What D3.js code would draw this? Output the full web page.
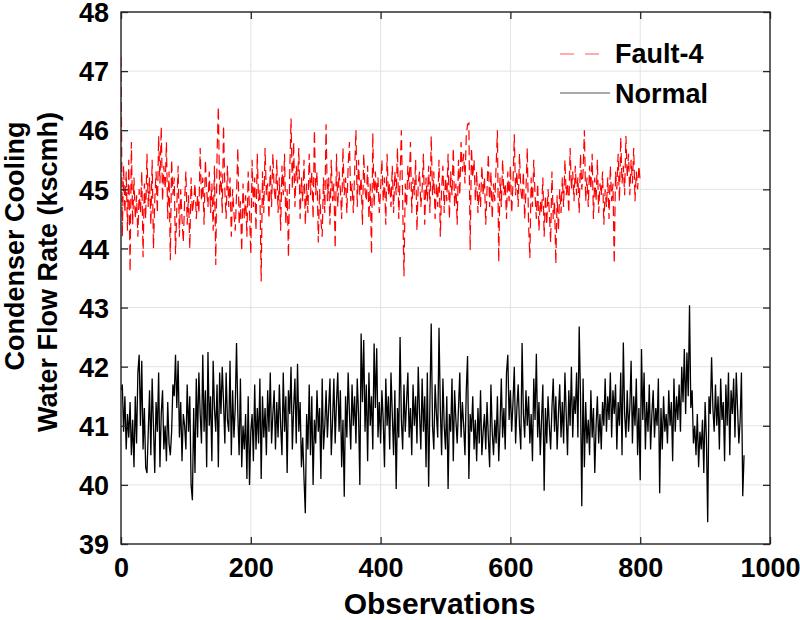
<!DOCTYPE html>
<html>
<head>
<meta charset="utf-8">
<script src="https://cdn.jsdelivr.net/npm/d3@7/dist/d3.min.js"></script>
<style>
  html, body { margin: 0; padding: 0; background: #fff; }
  svg { display: block; }
  text { font-family: "Liberation Sans", Arial, Helvetica, sans-serif; font-weight: bold; fill: #000; }
</style>
</head>
<body>
<svg id="chart" width="800" height="620"></svg>
<script>
// ---- data (one value every STEP observations) ----
const STEP = 2;
const xTicks = [0, 200, 400, 600, 800, 1000];
const yTicks = [39, 40, 41, 42, 43, 44, 45, 46, 47, 48];
const seriesNames = ["Fault-4", "Normal"];

const fault4 = [
47.24,44.2,45.4,44.6,45.3,44.3,45.5,43.6,45.8,44.4,
45.2,44.5,44.9,44.2,45.0,44.6,45.3,43.85,45.1,44.5,
45.6,44.7,45.2,44.4,45.5,44.0,44.8,45.3,44.6,45.9,
45.1,46.06,44.8,45.4,45.0,45.8,44.5,45.3,43.8,45.5,
44.9,45.2,43.9,44.7,45.4,44.2,45.0,44.5,44.1,44.8,
45.3,44.4,44.9,44.0,45.2,44.6,44.8,45.1,44.5,44.9,
44.6,45.7,44.8,45.2,44.4,45.5,45.0,44.7,45.3,44.6,
45.1,44.3,45.4,43.72,45.6,46.4,44.9,45.3,44.6,46.08,
45.0,44.5,45.4,44.7,45.2,44.2,45.0,44.6,44.3,44.9,
45.7,44.4,44.8,43.95,45.1,44.5,44.9,44.2,45.3,44.6,
43.9,45.5,44.7,45.2,44.3,45.6,44.8,45.0,43.44,45.3,
44.6,45.7,44.9,45.1,44.5,45.4,44.7,45.6,45.0,44.8,
45.5,44.6,45.2,44.3,45.4,44.9,45.6,44.4,45.0,43.85,
45.3,46.2,45.0,45.8,44.7,45.4,45.1,45.7,44.5,45.2,
44.8,45.5,44.4,45.1,44.6,45.6,44.9,45.3,44.5,46.0,
44.9,45.3,44.1,45.0,44.5,44.2,45.2,44.6,46.1,44.8,
45.2,44.4,45.5,44.8,45.1,44.0,45.6,44.7,45.3,45.0,
44.5,45.7,44.9,45.2,44.6,45.4,45.8,44.8,45.1,44.6,
45.3,46.0,44.7,45.5,44.9,45.2,44.4,45.6,45.0,44.8,
45.4,44.5,45.1,43.9,45.95,44.7,45.3,44.9,45.2,44.6,
45.0,45.5,44.8,45.2,44.4,45.6,44.9,45.1,44.7,45.4,
44.6,45.3,44.9,45.7,44.5,45.2,46.0,44.8,43.53,45.1,
44.7,45.4,45.0,45.8,44.6,45.2,44.9,45.5,44.3,45.1,
45.3,44.7,45.0,45.6,44.4,45.2,44.8,45.4,44.6,45.9,
44.9,45.3,44.5,45.1,44.7,45.5,44.2,45.0,45.4,44.6,
45.2,44.8,45.6,44.5,45.3,44.9,45.7,44.7,45.1,44.4,
45.5,44.9,45.8,45.3,45.6,45.1,45.9,46.1,46.12,43.97,
45.7,45.2,45.5,44.8,45.3,44.6,45.1,44.7,45.4,44.9,
45.2,44.4,45.0,45.6,44.7,45.3,44.5,45.1,44.8,45.4,
46.0,43.77,45.2,44.7,45.5,44.9,45.1,44.5,45.3,44.8,
45.4,44.6,45.1,45.93,44.9,45.3,44.7,45.6,45.0,44.8,
45.3,44.5,45.0,45.7,44.4,43.84,45.2,44.7,45.5,44.9,
44.5,45.1,44.3,44.8,44.6,45.2,44.2,44.9,44.4,45.0,
44.6,44.1,45.3,44.5,44.8,43.74,44.9,44.3,45.0,44.6,
45.2,44.7,45.5,44.9,45.1,44.6,45.7,45.0,45.3,44.8,
45.4,44.9,45.2,44.6,45.6,45.0,45.3,46.0,44.8,45.2,
44.7,45.4,45.0,45.6,44.5,45.2,44.8,45.5,44.6,45.1,
44.9,45.3,44.4,45.0,44.7,45.2,44.5,45.4,44.8,45.1,
43.74,45.3,45.0,45.6,44.8,45.88,45.1,45.4,44.9,45.9,
45.2,45.6,44.9,45.5,45.1,45.7,44.8,45.3,45.0,45.4,
45.13
];

const normal = [
41.6,41.7,40.9,41.5,40.6,41.2,40.8,41.4,40.5,41.1,
40.3,41.5,40.7,41.9,42.2,41.0,42.1,40.6,41.3,40.3,
40.2,40.9,41.6,40.5,41.8,41.0,40.2,41.4,40.9,41.9,
40.3,41.2,41.6,40.6,41.0,40.4,41.4,40.7,40.5,40.9,
41.7,41.5,42.2,41.3,42.1,40.8,41.4,40.4,41.2,41.0,
40.6,41.7,40.9,41.5,40.0,39.74,41.3,40.2,41.8,40.8,
41.9,41.2,40.7,42.2,40.9,41.6,40.3,42.25,41.0,41.5,
40.4,42.1,41.3,40.9,41.7,40.3,41.9,41.2,42.0,41.4,
40.7,41.9,41.1,40.9,42.1,40.5,41.6,40.8,41.3,42.4,
41.2,40.5,41.8,40.3,41.0,40.6,41.2,40.1,41.5,40.0,
40.9,41.2,40.4,41.7,40.6,41.3,40.7,41.8,40.1,41.5,
40.8,41.3,40.5,41.6,40.9,41.9,40.7,41.2,41.6,40.6,
41.4,40.8,41.7,41.0,40.5,41.9,40.9,41.5,40.2,41.6,
41.2,42.0,40.6,41.3,41.8,40.7,42.05,40.9,41.4,40.3,
40.8,40.1,39.52,41.2,40.6,41.7,40.5,41.5,40.0,41.1,
40.7,41.6,40.9,41.3,40.1,41.8,40.6,41.0,41.6,40.8,
41.3,41.8,40.5,41.1,41.8,40.7,41.4,41.9,40.9,41.6,
40.3,41.1,39.8,41.5,40.8,41.9,41.2,40.6,41.7,41.0,
41.5,40.7,41.8,41.2,40.0,42.56,41.4,42.45,40.9,41.7,
40.4,41.9,41.0,41.5,40.6,42.39,41.3,42.31,40.8,41.4,
40.7,41.6,41.1,40.3,41.8,41.0,41.5,40.6,41.9,41.2,
40.5,41.6,39.93,41.3,40.8,42.5,41.1,40.6,41.7,40.9,
41.4,41.9,40.8,41.3,40.5,41.7,41.0,41.5,40.7,42.0,
41.2,40.6,41.8,40.9,41.5,40.3,41.9,39.97,41.4,42.73,
41.0,40.6,41.7,41.2,40.8,42.66,41.3,40.5,41.8,41.0,
40.6,41.5,39.93,41.2,40.9,41.8,40.4,41.6,41.1,40.7,
41.3,41.9,40.8,41.4,41.0,40.5,41.6,42.18,40.1,41.2,
40.9,41.5,40.6,41.1,40.4,41.3,40.7,41.6,40.5,40.9,
41.2,40.6,41.4,40.8,40.3,41.7,40.9,40.5,41.1,40.7,
41.5,40.4,41.0,41.8,40.8,41.3,40.6,41.9,42.2,41.1,
41.6,40.9,41.4,42.0,40.7,41.3,41.7,41.0,40.6,42.4,
41.2,40.8,41.6,41.0,41.5,40.7,41.2,40.4,41.8,41.1,
42.22,40.8,41.4,40.5,41.1,41.7,39.9,41.3,40.7,41.5,
41.0,40.6,41.3,41.8,40.9,41.5,40.6,41.2,41.7,40.8,
41.4,40.7,41.9,41.2,40.5,41.6,41.0,42.0,40.8,41.5,
41.2,41.9,40.8,42.68,41.5,39.64,41.8,40.3,41.4,40.7,
41.1,40.5,41.6,40.8,41.3,40.2,41.0,41.5,40.7,41.2,
40.6,41.4,41.0,41.8,40.9,41.5,41.1,41.9,40.8,41.6,
41.2,41.7,40.6,41.4,41.0,41.9,40.5,42.41,41.2,40.8,
41.6,40.9,41.3,42.1,40.7,41.5,41.0,41.8,40.5,41.3,
40.08,42.3,41.1,41.9,40.6,41.4,40.9,41.7,40.6,41.2,
41.6,40.8,41.3,41.0,41.8,39.86,41.3,40.6,41.5,40.9,
41.2,40.7,41.6,41.0,41.4,40.4,41.8,40.9,41.5,41.1,
41.7,40.9,42.0,41.4,42.3,41.2,42.24,41.5,43.04,41.3,
41.6,40.7,41.0,40.5,41.2,40.3,40.9,40.6,41.1,40.2,
41.4,40.8,39.37,41.5,41.2,42.16,41.3,40.9,41.7,41.0,
41.5,40.6,41.8,41.1,41.4,40.4,41.7,41.0,41.9,40.5,
41.6,41.2,41.8,40.8,41.9,41.3,40.7,41.1,41.9,39.81,
40.5
];

// ---- layout ----
const svg = d3.select("#chart");
const margin = { left: 121, right: 30, top: 12, bottom: 76 };
const W = 800, H = 620;
const x = d3.scaleLinear().domain([0, 1000]).range([margin.left, W - margin.right]);
const y = d3.scaleLinear().domain([39, 48]).range([H - margin.bottom, margin.top]);
const x0 = x.range()[0], x1 = x.range()[1], y0 = y.range()[0], y1 = y.range()[1];

// grid
const grid = svg.append("g").attr("stroke", "#e3e3e3").attr("stroke-width", 1);
xTicks.forEach(t => grid.append("line").attr("x1", x(t)).attr("x2", x(t)).attr("y1", y0).attr("y2", y1));
yTicks.forEach(t => grid.append("line").attr("x1", x0).attr("x2", x1).attr("y1", y(t)).attr("y2", y(t)));

// clip
svg.append("clipPath").attr("id", "clip").append("rect")
  .attr("x", x0).attr("y", y1).attr("width", x1 - x0).attr("height", y0 - y1);

const line = d3.line().x((d, i) => x(i * STEP)).y(d => y(d));

const plot = svg.append("g").attr("clip-path", "url(#clip)");
plot.append("path").datum(normal).attr("d", line)
  .attr("fill", "none").attr("stroke", "#000").attr("stroke-width", 1.3);
plot.append("path").datum(fault4).attr("d", line)
  .attr("fill", "none").attr("stroke", "#ff0000").attr("stroke-width", 1.2)
  .attr("stroke-dasharray", "10,5");

// axes (ticks inward, box on all sides)
const tickLen = 7;
const fmt = d3.format("d");
const axB = svg.append("g").attr("transform", `translate(0,${y0})`)
  .call(d3.axisBottom(x).tickValues(xTicks).tickSizeInner(-tickLen).tickSizeOuter(0).tickPadding(14).tickFormat(fmt));
const axT = svg.append("g").attr("transform", `translate(0,${y1})`)
  .call(d3.axisTop(x).tickValues(xTicks).tickSizeInner(-tickLen).tickSizeOuter(0).tickFormat(""));
const axL = svg.append("g").attr("transform", `translate(${x0},0)`)
  .call(d3.axisLeft(y).tickValues(yTicks).tickSizeInner(-tickLen).tickSizeOuter(0).tickPadding(12).tickFormat(fmt));
const axR = svg.append("g").attr("transform", `translate(${x1},0)`)
  .call(d3.axisRight(y).tickValues(yTicks).tickSizeInner(-tickLen).tickSizeOuter(0).tickFormat(""));
[axB, axT, axL, axR].forEach(a => {
  a.select(".domain").remove();
  a.selectAll(".tick line").attr("stroke", "#262626").attr("stroke-width", 1.3);
  a.selectAll("text").attr("font-size", 27).attr("font-weight", "bold")
    .attr("font-family", '"Liberation Sans", Arial, sans-serif').attr("fill", "#000");
});
axB.selectAll("text").attr("dy", "0.71em");
axL.selectAll(".tick text").attr("dy", "0.36em");
svg.append("rect").attr("x", x0).attr("y", y1).attr("width", x1 - x0).attr("height", y0 - y1)
  .attr("fill", "none").attr("stroke", "#262626").attr("stroke-width", 1.4);

// axis labels
svg.append("text").attr("x", (x0 + x1) / 2 - 6).attr("y", 614).attr("text-anchor", "middle")
  .attr("font-size", 30).text("Observations");
svg.append("text").attr("transform", "translate(24,246) rotate(-90)").attr("text-anchor", "middle")
  .attr("font-size", 27).text("Condenser Cooling");
svg.append("text").attr("transform", "translate(57,272) rotate(-90)").attr("text-anchor", "middle")
  .attr("font-size", 27).text("Water Flow Rate (kscmh)");

// legend
const leg = svg.append("g");
leg.append("line").attr("x1", 560).attr("x2", 604).attr("y1", 54).attr("y2", 54)
  .attr("stroke", "#ff5a5a").attr("stroke-width", 1.2).attr("stroke-dasharray", "14,11");
leg.append("text").attr("x", 615).attr("y", 63).attr("font-size", 27).text(seriesNames[0]);
leg.append("line").attr("x1", 560).attr("x2", 610).attr("y1", 93).attr("y2", 93)
  .attr("stroke", "#555").attr("stroke-width", 1.2);
leg.append("text").attr("x", 615).attr("y", 103).attr("font-size", 27).text(seriesNames[1]);
</script>
</body>
</html>
